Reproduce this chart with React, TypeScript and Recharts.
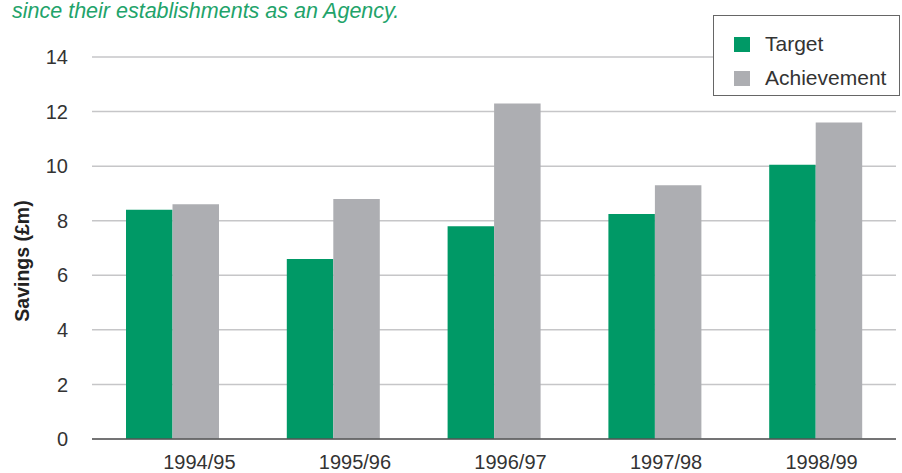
import React from 'react';
import { BarChart, Bar, XAxis, YAxis, CartesianGrid } from 'recharts';

const categories = ['1994/95', '1995/96', '1996/97', '1997/98', '1998/99'];
const targetValues = [8.4, 6.6, 7.8, 8.25, 10.05];
const achievementValues = [8.6, 8.8, 12.3, 9.3, 11.6];
const yTicks = [0, 2, 4, 6, 8, 10, 12, 14];
const seriesNames = ['Target', 'Achievement'];

const data = categories.map((c, i) => ({
  year: c,
  Target: targetValues[i],
  Achievement: achievementValues[i],
}));

const GREEN = '#009966';
const GRAY = '#adaeb2';
const COLORS = [GREEN, GRAY];
const FONT = '"Liberation Sans", Arial, Helvetica, sans-serif';

const XTick = (props: any) => {
  const { x, y, payload, index } = props;
  const dx = 27 - 5.25 * index;
  return (
    <text
      x={x + dx}
      y={y + 8}
      dy="0.71em"
      textAnchor="middle"
      fill="#333"
      fontSize={20}
      fontFamily={FONT}
    >
      {payload.value}
    </text>
  );
};

const LegendBox = () => (
  <div
    style={{
      position: 'absolute',
      left: 713,
      top: 15,
      width: 187,
      height: 81,
      boxSizing: 'border-box',
      border: '1.5px solid #666',
      background: '#fff',
      fontFamily: FONT,
      fontSize: 21,
      color: '#333',
    }}
  >
    {seriesNames.map((name, i) => (
      <div key={name} style={{ position: 'absolute', left: 20, top: i === 0 ? 19 : 53, display: 'flex', alignItems: 'center', height: 18 }}>
        <span style={{ display: 'inline-block', width: 16, height: 15, background: COLORS[i], marginRight: 15 }} />
        <span style={{ lineHeight: '18px' }}>{name}</span>
      </div>
    ))}
  </div>
);

export default function App() {
  return (
    <div style={{ position: 'absolute', left: 0, top: 0, width: 902, height: 473, background: '#fff', overflow: 'hidden' }}>
      <BarChart
        width={902}
        height={473}
        data={data}
        margin={{ top: 57, right: 6, left: 0, bottom: 0 }}
        barGap={0}
        barSize={46.5}
      >
        <CartesianGrid vertical={false} stroke="#c6c6c8" strokeWidth={1.5} />
        <XAxis
          dataKey="year"
          height={34}
          axisLine={{ stroke: '#555', strokeWidth: 1.5 }}
          tickLine={false}
          tick={<XTick />}
          interval={0}
        />
        <YAxis
          width={92}
          domain={[0, 14]}
          ticks={yTicks}
          axisLine={false}
          tickLine={false}
          tickMargin={18}
          tick={{ fill: '#333', fontSize: 20, fontFamily: FONT }}
          label={{
            value: 'Savings (£m)',
            angle: -90,
            position: 'insideLeft',
            offset: 0,
            dx: 22,
            dy: 13,
            style: { fontWeight: 'bold', fontSize: 19.5, fill: '#222', fontFamily: FONT, textAnchor: 'middle' },
          }}
        />
        <Bar dataKey="Target" fill={GREEN} isAnimationActive={false} />
        <Bar dataKey="Achievement" fill={GRAY} isAnimationActive={false} />
      </BarChart>
      <LegendBox />
      <div
        style={{
          position: 'absolute',
          left: 12,
          top: 0,
          fontFamily: FONT,
          fontStyle: 'italic',
          fontSize: 21.5,
          color: '#22a36a',
          whiteSpace: 'nowrap',
          lineHeight: '23px',
        }}
      >
        since their establishments as an Agency.
      </div>
    </div>
  );
}
